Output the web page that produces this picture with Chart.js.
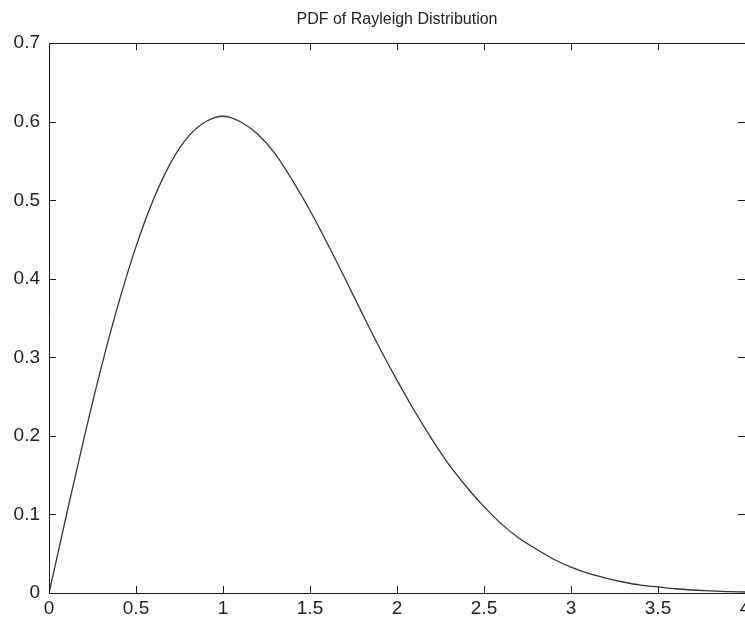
<!DOCTYPE html>
<html>
<head>
<meta charset="utf-8">
<script src="https://cdn.jsdelivr.net/npm/chart.js@4.4.1/dist/chart.umd.min.js"></script>
<style>
  html, body { margin: 0; padding: 0; background: #fff; overflow: hidden; }
  #wrap { width: 745px; height: 622px; overflow: hidden; }
</style>
</head>
<body>
<div id="wrap"><canvas id="pdfChart" width="760" height="622"></canvas></div>
<script>
// values
const xValues = [0, 0.1, 0.2, 0.3, 0.4, 0.5, 0.6, 0.7, 0.8, 0.9,
  1.0, 1.1, 1.2, 1.3, 1.4, 1.5, 1.6, 1.7, 1.8, 1.9,
  2.0, 2.1, 2.2, 2.3, 2.4, 2.5, 2.6, 2.7, 2.8, 2.9,
  3.0, 3.1, 3.2, 3.3, 3.4, 3.5, 3.6, 3.7, 3.8, 3.9, 4.0];
const pdfValues = [0, 0.099, 0.196, 0.287, 0.369, 0.441, 0.501, 0.548, 0.581, 0.600,
  0.607, 0.600, 0.584, 0.559, 0.525, 0.487, 0.445, 0.401, 0.356, 0.312,
  0.271, 0.232, 0.196, 0.163, 0.135, 0.110, 0.088, 0.070, 0.056, 0.043,
  0.033, 0.025, 0.019, 0.014, 0.010, 0.0077, 0.0054, 0.0038, 0.0026, 0.0018, 0.0013];
const xTicks = [0, 0.5, 1, 1.5, 2, 2.5, 3, 3.5, 4];
const yTicks = [0, 0.1, 0.2, 0.3, 0.4, 0.5, 0.6, 0.7];
const titre = "PDF of Rayleigh Distribution";

const police = "'Liberation Sans', Arial, sans-serif";

// cadre + petites graduations vers l'intérieur (style matlab)
const cadre = {
  id: "cadre",
  afterDraw(chart) {
    const ctx = chart.ctx;
    const a = chart.chartArea;
    const sx = chart.scales.x, sy = chart.scales.y;
    const len = 7;
    ctx.save();
    ctx.strokeStyle = "#1a1a1a";
    ctx.lineWidth = 1;
    ctx.beginPath();
    ctx.rect(Math.round(a.left) + 0.5, Math.round(a.top) + 0.5,
             Math.round(a.right - a.left), Math.round(a.bottom - a.top));
    xTicks.forEach(v => {
      const px = Math.round(sx.getPixelForValue(v)) + 0.5;
      ctx.moveTo(px, a.bottom); ctx.lineTo(px, a.bottom - len);
      ctx.moveTo(px, a.top); ctx.lineTo(px, a.top + len);
    });
    yTicks.forEach(v => {
      const py = Math.round(sy.getPixelForValue(v)) + 0.5;
      ctx.moveTo(a.left, py); ctx.lineTo(a.left + len, py);
      ctx.moveTo(a.right, py); ctx.lineTo(a.right - len, py);
    });
    ctx.stroke();
    ctx.restore();
  }
};

const fond = {
  id: "fond",
  beforeDraw(chart) {
    const ctx = chart.ctx;
    ctx.save();
    ctx.fillStyle = "#fff";
    ctx.fillRect(0, 0, chart.width, chart.height);
    ctx.restore();
  }
};

const ctx = document.getElementById("pdfChart").getContext("2d");
new Chart(ctx, {
  type: "line",
  data: {
    datasets: [{
      label: "pdf",
      data: xValues.map((x, i) => ({ x: x, y: pdfValues[i] })),
      borderColor: "#333",
      borderWidth: 1.3,
      pointRadius: 0,
      cubicInterpolationMode: "monotone",
      fill: false
    }]
  },
  options: {
    responsive: false,
    animation: false,
    layout: { padding: { left: 0, right: 15, top: 0, bottom: 0 } },
    plugins: {
      legend: { display: false },
      tooltip: { enabled: false },
      title: {
        display: true,
        fullSize: false,
        text: titre,
        color: "#222",
        font: { family: police, size: 16, weight: "normal" },
        padding: { top: 10, bottom: 14 }
      }
    },
    scales: {
      x: {
        type: "linear",
        min: 0, max: 4,
        afterBuildTicks: s => { s.ticks = xTicks.map(v => ({ value: v })); },
        afterFit: s => { s.height = 29; },
        grid: { display: false, drawTicks: false },
        border: { display: false },
        ticks: {
          color: "#222", padding: 4, maxRotation: 0, autoSkip: false,
          font: { family: police, size: 19 },
          callback: v => String(v)
        }
      },
      y: {
        min: 0, max: 0.7,
        afterBuildTicks: s => { s.ticks = yTicks.map(v => ({ value: v })); },
        afterFit: s => { s.width = 49; },
        grid: { display: false, drawTicks: false },
        border: { display: false },
        ticks: {
          color: "#222", padding: 9,
          font: { family: police, size: 19 },
          callback: v => String(v)
        }
      }
    }
  },
  plugins: [fond, cadre]
});
</script>
</body>
</html>
